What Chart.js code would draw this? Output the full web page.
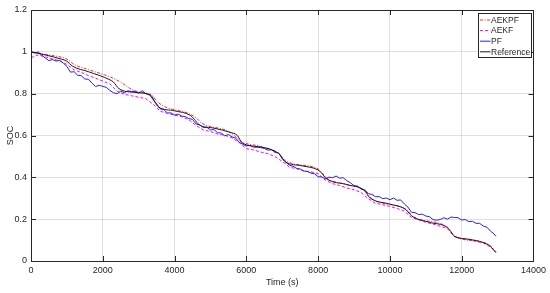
<!DOCTYPE html>
<html>
<head>
<meta charset="utf-8">
<script src="https://cdn.jsdelivr.net/npm/chart.js@4.4.1/dist/chart.umd.min.js"></script>
<style>
  html, body { margin: 0; padding: 0; background: #fff; }
  #wrap { width: 550px; height: 293px; }
</style>
</head>
<body>
<div id="wrap"><canvas id="socChart" width="550" height="293"></canvas></div>
<script>
const seriesNames = ['AEKPF', 'AEKF', 'PF', 'Reference']
const xTicks = [0, 2000, 4000, 6000, 8000, 10000, 12000, 14000]
const yTicks = [0, 0.2, 0.4, 0.6, 0.8, 1, 1.2]

// reference SOC (black), read at its bends
const refTime = [0, 400, 850, 1000, 1150, 1600, 2200, 2300, 2450, 2900, 3350, 3450, 3550, 4000, 4450,
  4550, 4680, 5100, 5550, 5750, 5880, 6400, 6850, 6950, 7080, 7550, 8000, 8100, 8220, 8800,
  9300, 9400, 9500, 10000, 10450, 10550, 10650, 11100, 11600, 11700, 11800, 12200, 12600, 12800, 12950]
const refSoc = [1.0, 0.985, 0.965, 0.955, 0.932, 0.905, 0.866, 0.855, 0.824, 0.806, 0.79, 0.76, 0.737, 0.718, 0.695,
  0.678, 0.652, 0.635, 0.615, 0.6, 0.565, 0.545, 0.52, 0.505, 0.475, 0.455, 0.435, 0.42, 0.395, 0.365,
  0.335, 0.31, 0.295, 0.272, 0.245, 0.225, 0.21, 0.185, 0.16, 0.14, 0.118, 0.104, 0.088, 0.07, 0.04]

// AEKPF (red dash-dot)
const aekpfTime = [0, 500, 1000, 1200, 1600, 2200, 2500, 2750, 3000, 3350, 3500, 3700, 4400, 4600, 4750,
  5500, 5900, 6400, 6900, 7100, 8000, 8250, 8800, 9300, 9500, 10450, 10650, 11600, 11800, 12600, 12800, 12950]
const aekpfSoc = [1.0, 0.985, 0.965, 0.94, 0.915, 0.88, 0.855, 0.826, 0.808, 0.795, 0.765, 0.74, 0.705, 0.685, 0.66,
  0.62, 0.568, 0.548, 0.515, 0.478, 0.44, 0.395, 0.366, 0.337, 0.297, 0.247, 0.212, 0.162, 0.118, 0.09, 0.072, 0.045]

// AEKF (magenta dashed)
const aekfTime = [0, 200, 400, 600, 800, 1000, 1200, 1400, 1600, 1800, 2000, 2200, 2400, 2600, 2800, 3000,
  3200, 3400, 3600, 3800, 4000, 4200, 4400, 4600, 4800, 5000, 5200, 5400, 5600, 5800, 6000, 6200,
  6400, 6600, 6800, 7000, 7200, 7400, 7600, 7800, 8000, 8200, 8400, 8600, 8800, 9000, 9200, 9400,
  9600, 9800, 10000, 10200, 10400, 10600, 10800, 11000, 11200, 11400, 11600, 11800, 12000, 12200,
  12400, 12600, 12800, 12950]
const aekfSoc = [0.972, 0.985, 0.976, 0.966, 0.957, 0.94, 0.914, 0.902, 0.886, 0.874, 0.86, 0.846, 0.812, 0.797, 0.79, 0.783,
  0.776, 0.75, 0.716, 0.706, 0.697, 0.69, 0.675, 0.648, 0.626, 0.619, 0.607, 0.601, 0.589, 0.566, 0.537, 0.531,
  0.521, 0.513, 0.499, 0.476, 0.449, 0.441, 0.431, 0.426, 0.417, 0.386, 0.37, 0.361, 0.349, 0.341, 0.327, 0.297,
  0.276, 0.269, 0.261, 0.251, 0.239, 0.208, 0.197, 0.185, 0.177, 0.166, 0.155, 0.116, 0.108, 0.101,
  0.094, 0.086, 0.068, 0.042]

// PF (blue, noisy)
const pfTime = [0, 100, 200, 300, 400, 500, 600, 700, 800, 900, 1000, 1100, 1200, 1300, 1400, 1500, 1600, 1700, 1800, 1900,
  2000, 2100, 2200, 2300, 2400, 2500, 2600, 2700, 2800, 2900, 3000, 3100, 3200, 3300, 3400, 3500, 3600, 3700, 3800, 3900,
  4000, 4100, 4200, 4300, 4400, 4500, 4600, 4700, 4800, 4900, 5000, 5100, 5200, 5300, 5400, 5500, 5600, 5700, 5800, 5900,
  6000, 6100, 6200, 6300, 6400, 6500, 6600, 6700, 6800, 6900, 7000, 7100, 7200, 7300, 7400, 7500, 7600, 7700, 7800, 7900,
  8000, 8100, 8200, 8300, 8400, 8500, 8600, 8700, 8800, 8900, 9000, 9100, 9200, 9300, 9400, 9500, 9600, 9700, 9800, 9900,
  10000, 10100, 10200, 10300, 10400, 10500, 10600, 10700, 10800, 10900, 11000, 11100, 11200, 11300, 11400, 11500, 11600,
  11700, 11800, 11900, 12000, 12100, 12200, 12300, 12400, 12500, 12600, 12700, 12800, 12900, 12950]
const pfSoc = [1.0, 0.994, 0.999, 0.984, 0.97, 0.958, 0.963, 0.956, 0.959, 0.946, 0.93, 0.903, 0.905, 0.888, 0.886, 0.87, 0.869, 0.85, 0.834, 0.84,
  0.835, 0.83, 0.815, 0.804, 0.8, 0.812, 0.804, 0.814, 0.81, 0.812, 0.802, 0.814, 0.8, 0.795, 0.772, 0.752, 0.727, 0.724, 0.708, 0.708,
  0.698, 0.702, 0.693, 0.69, 0.681, 0.677, 0.655, 0.651, 0.638, 0.639, 0.627, 0.628, 0.613, 0.612, 0.598, 0.605, 0.593, 0.588, 0.568, 0.558,
  0.55, 0.553, 0.544, 0.544, 0.542, 0.538, 0.53, 0.532, 0.519, 0.517, 0.488, 0.472, 0.458, 0.453, 0.443, 0.44, 0.43, 0.428, 0.42, 0.417,
  0.403, 0.402, 0.393, 0.401, 0.398, 0.406, 0.396, 0.398, 0.384, 0.374, 0.36, 0.358, 0.343, 0.34, 0.322, 0.318, 0.307, 0.308, 0.298, 0.301,
  0.293, 0.301, 0.29, 0.292, 0.273, 0.258, 0.233, 0.231, 0.222, 0.224, 0.215, 0.212, 0.198, 0.195, 0.198, 0.207, 0.2, 0.21, 0.208, 0.207,
  0.196, 0.198, 0.188, 0.19, 0.18, 0.18, 0.167, 0.162, 0.143, 0.13, 0.118]

const axisColor = '#262626'
const fontFamily = "'Liberation Sans', Arial, sans-serif"

function toPoints(xs, ys) {
  return xs.map((x, i) => ({ x: x, y: ys[i] }))
}

// MATLAB style box, inward ticks and legend
const matlabAxes = {
  id: 'matlabAxes',
  afterDraw(chart) {
    const ctx = chart.ctx
    const a = chart.chartArea
    const xs = chart.scales.x
    const ys = chart.scales.y
    const tl = 5
    ctx.save()
    ctx.strokeStyle = axisColor
    ctx.lineWidth = 1
    ctx.beginPath()
    xTicks.forEach(v => {
      const px = Math.round(xs.getPixelForValue(v)) + 0.5
      ctx.moveTo(px, a.bottom); ctx.lineTo(px, a.bottom - tl)
      ctx.moveTo(px, a.top); ctx.lineTo(px, a.top + tl)
    })
    yTicks.forEach(v => {
      const py = Math.round(ys.getPixelForValue(v)) + 0.5
      ctx.moveTo(a.left, py); ctx.lineTo(a.left + tl, py)
      ctx.moveTo(a.right, py); ctx.lineTo(a.right - tl, py)
    })
    ctx.stroke()
    ctx.strokeRect(Math.round(a.left) + 0.5, Math.round(a.top) + 0.5, Math.round(a.right - a.left), Math.round(a.bottom - a.top))

    // legend
    const bx = 478.5, by = 13.5, bw = 53, bh = 44
    ctx.fillStyle = '#fff'
    ctx.fillRect(bx, by, bw, bh)
    ctx.strokeRect(bx, by, bw, bh)
    ctx.font = '8.5px ' + fontFamily
    ctx.textBaseline = 'middle'
    ctx.textAlign = 'left'
    chart.data.datasets.forEach((ds, i) => {
      const ly = by + 6.5 + i * 10.6
      ctx.save()
      ctx.strokeStyle = ds.borderColor
      ctx.lineWidth = 1
      ctx.setLineDash(ds.borderDash || [])
      ctx.beginPath()
      ctx.moveTo(bx + 1.5, ly)
      ctx.lineTo(bx + 12, ly)
      ctx.stroke()
      ctx.restore()
      ctx.fillStyle = axisColor
      ctx.fillText(ds.label, bx + 12.5, ly + 0.5)
    })
    ctx.restore()
  }
}

function initSocChart() {
  const canvas = document.getElementById('socChart')
  const chart = new Chart(canvas, {
    type: 'line',
    data: {
      datasets: [
        { label: seriesNames[0], data: toPoints(aekpfTime, aekpfSoc), borderColor: '#ff2a2a', borderWidth: 1, borderDash: [3, 1.5, 1, 1.5], cubicInterpolationMode: 'monotone', order: 3 },
        { label: seriesNames[1], data: toPoints(aekfTime, aekfSoc), borderColor: '#ff00ff', borderWidth: 1, borderDash: [3, 2], order: 2 },
        { label: seriesNames[2], data: toPoints(pfTime, pfSoc), borderColor: '#2020ff', borderWidth: 1, order: 1 },
        { label: seriesNames[3], data: toPoints(refTime, refSoc), borderColor: '#1a1a1a', borderWidth: 1, cubicInterpolationMode: 'monotone', order: 0 }
      ]
    },
    options: {
      responsive: false,
      animation: false,
      parsing: false,
      elements: { point: { radius: 0 }, line: { tension: 0 } },
      layout: { padding: { left: 0, right: 16, top: 10, bottom: 0 } },
      plugins: { legend: { display: false }, tooltip: { enabled: false } },
      scales: {
        x: {
          type: 'linear',
          min: 0,
          max: 14000,
          afterBuildTicks: s => { s.ticks = xTicks.map(v => ({ value: v })) },
          afterFit: s => { s.height = 32 },
          ticks: { color: axisColor, padding: 4, maxRotation: 0, font: { family: fontFamily, size: 9 }, callback: v => String(v) },
          grid: { color: 'rgba(38,38,38,0.14)', lineWidth: 1, drawTicks: false },
          border: { display: false },
          title: { display: true, text: 'Time (s)', color: axisColor, font: { family: fontFamily, size: 9 }, padding: { top: 0, bottom: 5 } }
        },
        y: {
          type: 'linear',
          min: 0,
          max: 1.2,
          afterBuildTicks: s => { s.ticks = yTicks.map(v => ({ value: v })) },
          afterFit: s => { s.width = 31 },
          ticks: { color: axisColor, padding: 4, font: { family: fontFamily, size: 9 }, callback: v => String(v) },
          grid: { color: 'rgba(38,38,38,0.14)', lineWidth: 1, drawTicks: false },
          border: { display: false },
          title: { display: true, text: 'SOC', color: axisColor, font: { family: fontFamily, size: 9 }, padding: { top: 5, bottom: 0 } }
        }
      }
    },
    plugins: [matlabAxes]
  })
  return chart
}

initSocChart()
</script>
</body>
</html>
